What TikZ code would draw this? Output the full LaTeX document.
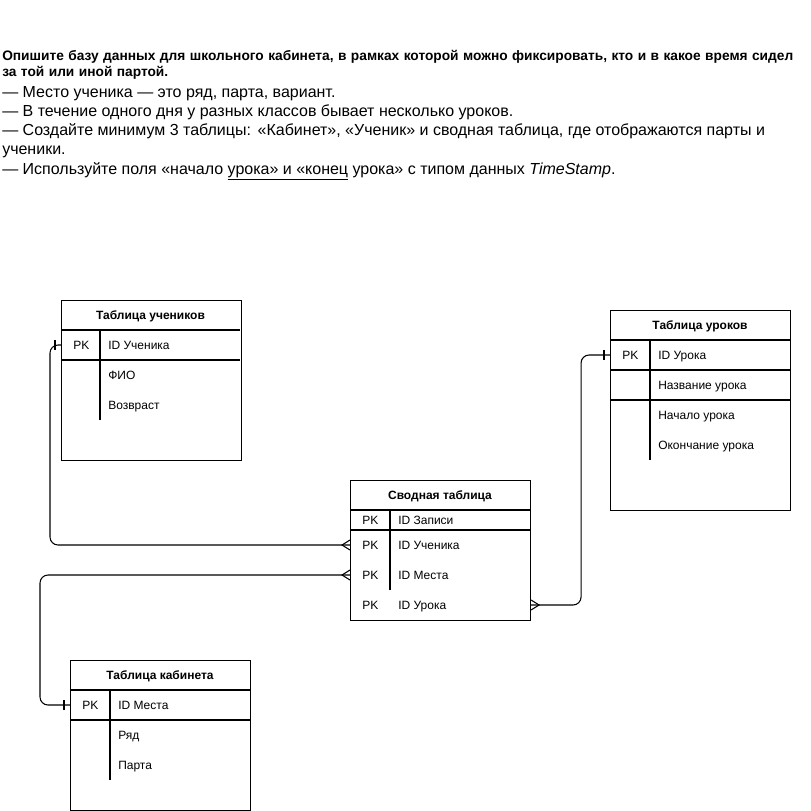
\documentclass[tikz,border=0pt]{standalone}
\usepackage{fontspec}
\setmainfont{Liberation Sans}
\usetikzlibrary{positioning,calc}

\begin{document}
\begin{tikzpicture}[x=0.75pt, y=-0.75pt,
	tbl/.style={draw, line width=0.8pt, minimum width=135pt, anchor=north west, inner sep=0pt},
	hdr/.style={font=\bfseries\fontsize{9}{11}\selectfont, text height=1.55ex, text depth=.3ex, inner sep=0pt},
	fld/.style={anchor=west, inner sep=0pt, text height=1.55ex, text depth=.3ex, font=\fontsize{9}{11}\selectfont},
	sep/.style={line width=0.8pt},
	link/.style={line width=0.8pt, rounded corners=6pt}]
	\useasboundingbox (0,0) rectangle (811,811);

	% task text
	\node[anchor=north west, inner sep=0pt, text width=606pt, align=left] (task) at (2,50) {%
		{\bfseries\fontsize{10.3}{12}\selectfont Опишите базу данных для школьного кабинета, в рамках которой можно фиксировать, кто и в какое время сидел\\ за той или иной партой.\par}
		\vspace{1.2pt}
		{\fontsize{12}{14.4}\selectfont — Место ученика — это ряд, парта, вариант.\\
		— В течение одного дня у разных классов бывает несколько уроков.\\
		— Создайте минимум 3 таблицы: «Кабинет», «Ученик» и сводная таблица, где отображаются парты и ученики.\\
		— Используйте поля «начало \underline{урока» и «конец} урока» с типом данных \textit{TimeStamp}.\par}};

	% students
	\node[tbl, minimum height=120pt] (uch) at (61,300) {};
	\node[hdr] (uchH) at (150.5,315) {Таблица учеников};
	\draw[sep] (61,330) -- (240,330) (61,360) -- (240,360) (100,330) -- (100,420);
	\node[fld] (uchPK) at (73,345) {PK};
	\node[fld] (uchId) at (108,345) {ID Ученика};
	\node[fld] (uchFio) at (108,375) {ФИО};
	\node[fld] (uchAge) at (108,405) {Возвраст};

	% lessons
	\node[tbl, minimum height=150pt] (urk) at (610,310) {};
	\node[hdr] (urkH) at (700,325) {Таблица уроков};
	\draw[sep] (610,340) -- (790,340) (610,370) -- (790,370) (610,400) -- (790,400) (650,340) -- (650,460);
	\node[fld] (urkPK) at (622,355) {PK};
	\node[fld] (urkId) at (658,355) {ID Урока};
	\node[fld] (urkName) at (658,385) {Название урока};
	\node[fld] (urkBeg) at (658,415) {Начало урока};
	\node[fld] (urkEnd) at (658,445) {Окончание урока};

	% summary
	\node[tbl, minimum height=105pt] (svod) at (350,480) {};
	\node[hdr] (svodH) at (440,495) {Сводная таблица};
	\draw[sep] (350,510) -- (530,510) (350,530) -- (530,530) (390,510) -- (390,590);
	\node[fld] at (362,520) {PK};
	\node[fld] (svodZap) at (398,520) {ID Записи};
	\node[fld] at (362,545) {PK};
	\node[fld] (svodUch) at (398,545) {ID Ученика};
	\node[fld] at (362,575) {PK};
	\node[fld] (svodMes) at (398,575) {ID Места};
	\node[fld] at (362,605) {PK};
	\node[fld] (svodUr) at (398,605) {ID Урока};

	% classroom
	\node[tbl, minimum height=112.5pt] (kab) at (70,660) {};
	\node[hdr] (kabH) at (160,675) {Таблица кабинета};
	\draw[sep] (70,690) -- (250,690) (70,720) -- (250,720) (110,690) -- (110,780);
	\node[fld] (kabPK) at (82,705) {PK};
	\node[fld] (kabId) at (118,705) {ID Места};
	\node[fld] (kabRow) at (118,735) {Ряд};
	\node[fld] (kabDesk) at (118,765) {Парта};

	% links
	\draw[link] (uch.west |- uchPK) -- ++(-11,0) |- (svod.west |- svodUch);
	\draw[link] (svod.west |- svodMes) -- ++(-310,0) |- (kab.west |- kabPK);
	\draw[link] (svod.east |- svodUr) -- ++(50,0) |- (urk.west |- urkPK);

	% one ends
	\draw[sep] ($(uch.west |- uchPK)+(-6,-5)$) -- ++(0,10);
	\draw[sep] ($(kab.west |- kabPK)+(-6,-5)$) -- ++(0,10);
	\draw[sep] ($(urk.west |- urkPK)+(-6,-5)$) -- ++(0,10);

	% many ends
	\draw[sep] ($(svod.west |- svodUch)+(0,-5)$) -- ++(-8,5) -- ++(8,5);
	\draw[sep] ($(svod.west |- svodMes)+(0,-5)$) -- ++(-8,5) -- ++(8,5);
	\draw[sep] ($(svod.east |- svodUr)+(0,-5)$) -- ++(8,5) -- ++(-8,5);
\end{tikzpicture}
\end{document}
